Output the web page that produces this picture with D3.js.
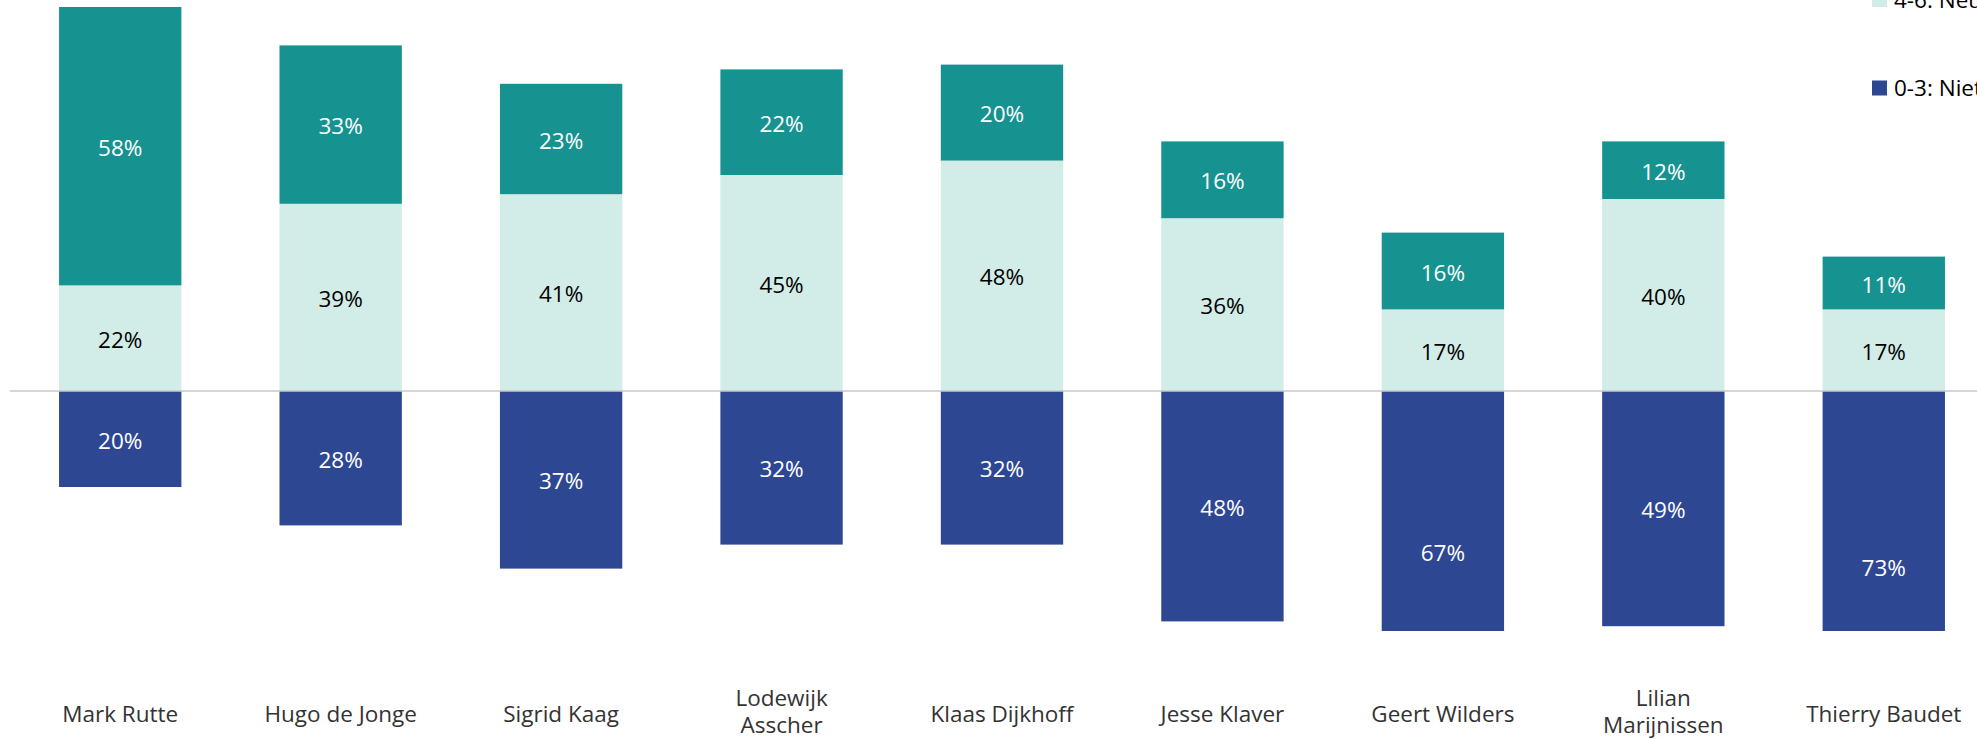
<!DOCTYPE html>
<html>
<head>
<meta charset="utf-8">
<script src="https://cdn.jsdelivr.net/npm/d3@7"></script>
<style>
  html, body { margin: 0; padding: 0; background: #fff; overflow: hidden; }
  text { font-family: "Open Sans", sans-serif; }
</style>
</head>
<body>
<svg id="chart"></svg>
<script>
// data (percentages)
var categories = ["Mark Rutte", "Hugo de Jonge", "Sigrid Kaag", "Lodewijk Asscher",
    "Klaas Dijkhoff", "Jesse Klaver", "Geert Wilders", "Lilian Marijnissen", "Thierry Baudet"];
var high = [58, 33, 23, 22, 20, 16, 16, 12, 11];   // 7-10
var mid  = [22, 39, 41, 45, 48, 36, 17, 40, 17];   // 4-6
var low  = [20, 28, 37, 32, 32, 48, 67, 49, 73];   // 0-3 (drawn below zero)
var seriesKeys = ["low", "mid", "high"];
var legendLabels = ["7-10: Positief", "4-6: Neutraal", "0-3: Niet positief"];
var legendKeys = ["high", "mid", "low"];
var yDomain = [-50, 80];

var W = 1977, H = 739;
var colors = { high: "#169390", mid: "#d2ece8", low: "#2e4793" };
var labelColors = { high: "#ffffff", mid: "#000000", low: "#ffffff" };

var svg = d3.select("#chart").attr("width", W).attr("height", H);

var rows = categories.map(function(c, i) {
    return { name: c, low: -low[i], mid: mid[i], high: high[i] };
});

var stacked = d3.stack().keys(seriesKeys).offset(d3.stackOffsetDiverging)(rows);

var x = d3.scaleBand()
    .domain(categories)
    .range([10, 1994])
    .paddingInner(0.445)
    .paddingOuter(0.2225);

var y = d3.scaleLinear().domain(yDomain).range([631, 7]).clamp(true);
var yFree = d3.scaleLinear().domain(yDomain).range([631, 7]);

var groups = svg.selectAll("g.series").data(stacked).enter()
    .append("g")
    .attr("class", "series")
    .attr("fill", function(d) { return colors[d.key]; });

groups.selectAll("rect").data(function(d) { return d; }).enter()
    .append("rect")
    .attr("x", function(d) { return x(d.data.name); })
    .attr("width", x.bandwidth())
    .attr("y", function(d) { return y(Math.max(d[0], d[1])); })
    .attr("height", function(d) { return Math.abs(y(d[0]) - y(d[1])); });

// zero line
svg.append("line")
    .attr("x1", 10).attr("x2", W)
    .attr("y1", y(0)).attr("y2", y(0))
    .attr("stroke", "#c8c8c8")
    .attr("stroke-width", 1.5);

// value labels, centred on the full segment
stacked.forEach(function(s) {
    svg.selectAll("text.lbl-" + s.key).data(s).enter()
        .append("text")
        .attr("class", "lbl-" + s.key)
        .attr("x", function(d) { return x(d.data.name) + x.bandwidth() / 2; })
        .attr("y", function(d) { return yFree((d[0] + d[1]) / 2); })
        .attr("dy", "0.43em")
        .attr("text-anchor", "middle")
        .attr("font-size", 22.5)
        .attr("fill", labelColors[s.key])
        .text(function(d) { return Math.abs(d[1] - d[0]) + "%"; });
});

// category labels
var catLabels = svg.selectAll("text.cat").data(categories).enter()
    .append("text")
    .attr("class", "cat")
    .attr("x", function(d) { return x(d) + x.bandwidth() / 2; })
    .attr("y", 722)
    .attr("text-anchor", "middle")
    .attr("font-size", 22.5)
    .attr("fill", "#333333");

catLabels.each(function(d) {
    var t = d3.select(this);
    if (d.length > 15) {
        var parts = d.split(" ");
        t.append("tspan").attr("x", t.attr("x")).attr("dy", -16.5).text(parts[0]);
        t.append("tspan").attr("x", t.attr("x")).attr("dy", 27.5).text(parts.slice(1).join(" "));
    } else {
        t.text(d);
    }
});

// legend (partly outside the frame, as in the source)
var legend = svg.selectAll("g.legend").data(legendKeys).enter()
    .append("g")
    .attr("class", "legend")
    .attr("transform", function(d, i) { return "translate(1872," + (-89 + i * 88.5) + ")"; });

legend.append("rect")
    .attr("y", -7.5)
    .attr("width", 15).attr("height", 15)
    .attr("fill", function(d) { return colors[d]; });

legend.append("text")
    .attr("x", 22)
    .attr("dy", "0.36em")
    .attr("font-size", 22.5)
    .attr("fill", "#000")
    .text(function(d, i) { return legendLabels[i]; });
</script>
</body>
</html>
